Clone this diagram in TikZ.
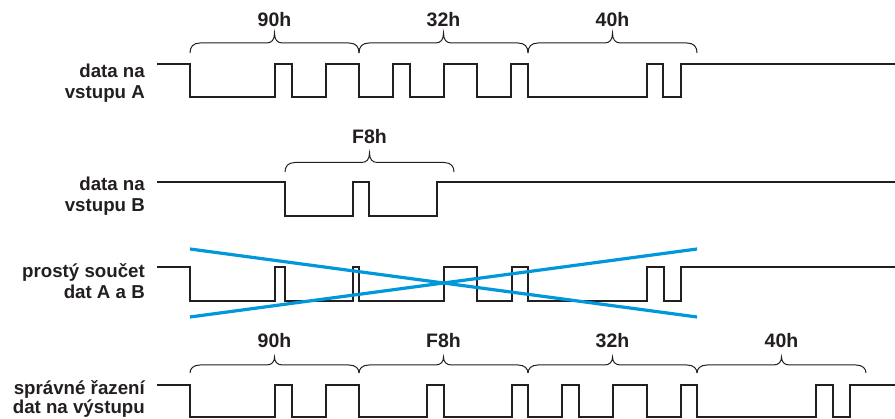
\documentclass[tikz,border=0pt]{standalone}
\usepackage{fontspec}
\setmainfont{Liberation Sans}
\definecolor{ink}{RGB}{35,31,32}
\definecolor{xblue}{RGB}{0,152,218}
\newcommand\hbrace[7]{%
 \pgfmathsetmacro\bxc{(#1+#2)/2}%
 \pgfmathsetmacro\bym{(#3+#4)/2}%
 \draw[brc] (#1,#4) .. controls (#1,\bym+4) and (#1+3,\bym) .. (#1+10,\bym) -- (\bxc-8,\bym) .. controls (\bxc-3,\bym) and (\bxc,\bym-3) .. (\bxc,#3) .. controls (\bxc,\bym-3) and (\bxc+3,\bym) .. (\bxc+8,\bym) -- (#2-10,\bym) .. controls (#2-3,\bym) and (#2,\bym+4) .. (#2,#4);
 \node[hexlbl] (#7) at (\bxc,#5) {#6};%
}
\begin{document}
\begin{tikzpicture}[x=1pt,y=-1pt,
  sig/.style={line width=2pt, draw=ink, line join=miter},
  brc/.style={line width=1pt, draw=ink},
  cross/.style={line width=3.2pt, draw=xblue},
  hexlbl/.style={font=\fontsize{19.5}{21}\selectfont\bfseries, text=ink, inner sep=0pt, anchor=base},
  rowlbl/.style={font=\fontsize{18.7}{20.5}\selectfont\bfseries, text=ink, inner sep=0pt, anchor=base east}]
\useasboundingbox (0,0) rectangle (895,419);

% row labels
\node[rowlbl] (a1) at (145,78) {data na};
\node[rowlbl] (a2) at (145,99) {vstupu A};
\node[rowlbl] (b1) at (145,191) {data na};
\node[rowlbl] (b2) at (145,212) {vstupu B};
\node[rowlbl] (s1) at (145,278) {prostý součet};
\node[rowlbl] (s2) at (145,299) {dat A a B};
\node[rowlbl] (o1) at (145,395) {správné řazení};
\node[rowlbl] (o2) at (145,414) {dat na výstupu};

% signal A
\draw[sig] (157,64) -| (190,97) -| (275,64) -| (292,97) -| (326,64) -| (359,97) -| (393,64) -| (410,97) -| (444,64) -| (477,97) -| (511,64) -| (528,97) -| (647,64) -| (663,97) -| (681,64) -- (895,64);
% signal B
\draw[sig] (157,182) -| (285,216) -| (353,182) -| (369,216) -| (437,182) -- (895,182);
% simple sum
\draw[sig] (157,267) -| (190,301) -| (275,267) -| (285,301) -| (353,267) -| (359,301) -| (444,267) -| (477,301) -| (512,267) -| (528,301) -| (647,267) -| (664,301) -| (681,267) -- (895,267);
% correct output
\draw[sig] (157,385) -| (190,417) -| (275,385) -| (292,417) -| (326,385) -| (359,417) -| (427,385) -| (444,417) -| (512,385) -| (528,417) -| (562,385) -| (579,417) -| (613,385) -| (647,417) -| (681,385) -| (697,417) -| (816,385) -| (833,417) -| (850,385) -- (895,385);

% braces
\hbrace{190}{359}{33}{53}{27}{90h}{ha1}
\hbrace{359}{528}{33}{53}{27}{32h}{ha2}
\hbrace{528}{697}{33}{53}{27}{40h}{ha3}
\hbrace{285}{454}{153}{172}{144}{F8h}{hb1}
\hbrace{190}{359}{357}{373}{348}{90h}{ho1}
\hbrace{359}{528}{357}{373}{348}{F8h}{ho2}
\hbrace{528}{697}{357}{373}{348}{32h}{ho3}
\hbrace{697}{866}{357}{373}{348}{40h}{ho4}

% cross-out
\draw[cross] (190,249) -- (697,317);
\draw[cross] (190,317) -- (697,249);
\end{tikzpicture}
\end{document}
